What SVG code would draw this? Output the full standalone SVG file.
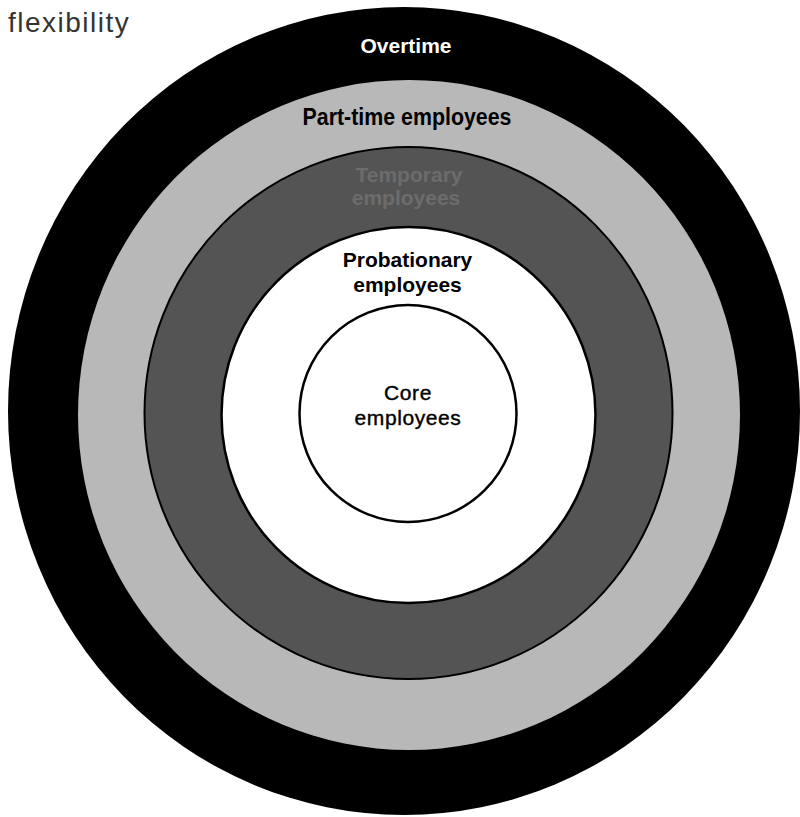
<svg xmlns="http://www.w3.org/2000/svg" width="800" height="817" viewBox="0 0 800 817">
  <style>
    .lbl { font-family: "Liberation Sans", Arial, Helvetica, sans-serif; text-anchor: middle; }
    .b { font-weight: bold; }
    .ring-line { stroke: #000; }
  </style>
  <rect width="800" height="817" fill="#fff"/>
  <text x="8" y="32" font-family="Liberation Sans, Arial, sans-serif" font-size="28" letter-spacing="1.5" fill="#333">flexibility</text>

  <g id="overtime">
    <ellipse cx="404" cy="411" rx="396" ry="404" fill="#000"/>
    <text class="lbl b" x="406" y="53" font-size="21" fill="#fff">Overtime</text>
  </g>
  <g id="part-time">
    <ellipse cx="409" cy="415" rx="331" ry="335" fill="#b8b8b8"/>
    <text class="lbl b" x="407" y="125" font-size="23" fill="#000" textLength="209" lengthAdjust="spacingAndGlyphs">Part-time employees</text>
  </g>
  <g id="temporary">
    <ellipse class="ring-line" cx="408.5" cy="413" rx="264" ry="266" fill="#545454" stroke-width="2"/>
    <text class="lbl b" x="409" y="182" font-size="21" fill="#6c6c6c">Temporary</text>
    <text class="lbl b" x="406" y="205" font-size="21" fill="#6c6c6c">employees</text>
  </g>
  <g id="probationary">
    <ellipse class="ring-line" cx="408.5" cy="415" rx="187" ry="188" fill="#fff" stroke-width="2.5"/>
    <text class="lbl b" x="407.5" y="267" font-size="21" fill="#000">Probationary</text>
    <text class="lbl b" x="407.5" y="292" font-size="21" fill="#000">employees</text>
  </g>
  <g id="core">
    <circle class="ring-line" cx="408" cy="413.5" r="108.5" fill="#fff" stroke-width="2.5"/>
    <text class="lbl" x="408" y="400" font-size="21" letter-spacing="0.6" fill="#000" stroke="#000" stroke-width="0.4">Core</text>
    <text class="lbl" x="408" y="425" font-size="21" letter-spacing="0.6" fill="#000" stroke="#000" stroke-width="0.4">employees</text>
  </g>
  <g id="connectors"/>
</svg>
